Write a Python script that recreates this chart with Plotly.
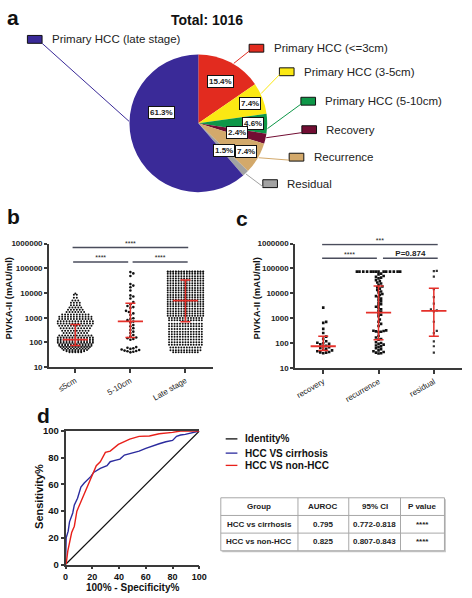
import numpy as np
import plotly.graph_objects as go

W, H = 472, 598
def X(px): return px / W
def Y(py): return 1 - py / H

FONT = "Arial, Liberation Sans, sans-serif"
RED = "#E5302A"

# ---------------- Panel a data ----------------
pie_labels = ["Primary HCC (<=3cm)", "Primary HCC (3-5cm)", "Primary HCC (5-10cm)",
              "Recovery", "Recurrence", "Residual", "Primary HCC (late stage)"]
pie_pct = [15.4, 7.4, 4.6, 2.4, 7.4, 1.5, 61.3]
pie_colors = ["#E22B1F", "#FBE813", "#0E9748", "#720D33", "#D3A96B", "#A2A2A2", "#3A2A98"]
total_n = 1016

# ---------------- Panel b data ----------------
b_cats = ["≤5cm", "5-10cm", "Late stage"]
le5_levels = [9500, 8500, 6500, 5000, 4000, 3200, 2600, 2100, 1700, 1350, 1100, 900, 720, 580,
              470, 380, 300, 240, 190, 160, 135, 115, 98, 85, 74, 65, 57, 50, 44, 40]
le5_counts = [1, 2, 2, 3, 4, 4, 5, 6, 7, 10, 12, 12, 13, 13,
              12, 11, 10, 9, 12, 13, 13, 13, 13, 12, 12, 11, 10, 9, 7, 5]
mid_vals = [70000, 62000, 49000, 23000, 20000, 17000, 12600, 8000, 7200, 6000,
            4300, 3500, 3000, 2700, 2500, 1900, 1700, 1500, 1300, 950, 900, 800, 700, 650,
            510, 450, 380, 320, 275, 240, 180, 160, 150, 140, 130, 65, 61, 55, 52, 50, 47,
            45, 44, 42, 40, 58, 200]
late_levels = [75000, 72000, 60000, 48000, 39000, 31000, 25000, 20000, 16000, 13000, 10500,
               8400, 6800, 5500, 4400, 3600, 2900, 2300, 1850, 1500, 1200, 980, 790,
               575, 450, 355, 275, 215, 170, 132, 103, 81, 63, 49, 40]
late_counts = [14, 14, 14, 14, 14, 14, 14, 14, 14, 14, 14,
               14, 14, 14, 14, 14, 14, 14, 14, 14, 14, 13, 13,
               13, 13, 13, 13, 13, 13, 13, 13, 13, 12, 12, 10]
b_median = [130, 720, 4900]
b_q1 = [75, 158, 690]
b_q3 = [540, 3900, 34000]

# ---------------- Panel c data ----------------
c_cats = ["recovery", "recurrence", "residual"]
recovery_vals = [2700, 720, 660, 380, 260, 185, 150, 120, 105, 100, 95, 90, 80, 75, 70,
                 65, 60, 55, 52, 48, 45, 43, 42, 40]
recurrence_vals = [75000] * 14 + [
    62000, 58000, 50000, 46000, 43000, 40000, 34000, 31000, 27500, 25000, 22000,
    19000, 17500, 15500, 13800, 12000, 11000, 9500, 8700, 7800, 7000, 6200, 5500,
    4800, 4250, 3700, 3300, 2900, 2600, 2300, 2000, 1800, 1560, 1400, 1230,
    900, 730, 600, 490, 330, 320, 310, 300, 290, 280, 200, 170, 148, 140,
    110, 103, 95, 88, 81, 75, 70, 63, 58, 52, 48, 45, 42, 40, 39]
residual_vals = [80000, 78000, 47000, 15000, 7100, 3900, 2300, 2100, 1900, 730, 315, 255,
                 120, 76, 42]
c_median = [76, 1700, 2000]
c_q1 = [51, 140, 190]
c_q3 = [190, 20000, 16000]

# ---------------- Panel d data ----------------
blue_x = [0, 0.5, 2, 3, 5.4, 6.6, 9, 11.5, 14, 16.3, 19, 21, 26, 31, 33.4, 37, 40.7, 44, 50,
          55, 60, 65, 70, 75, 80, 83, 86, 89.5, 95, 100]
blue_y = [0, 20, 25, 32, 38.6, 44.7, 49.6, 58, 61, 63, 66, 69, 72, 74, 77, 78, 79, 82, 83.5,
          85, 87, 89, 90.5, 92, 93, 96, 97, 97.5, 99, 100]
red_x = [0, 0.5, 1.7, 3.4, 4.6, 6.6, 8.5, 11.5, 14, 16.8, 20, 23, 26, 29.8, 33.4, 39.5, 48,
         55, 62.7, 70, 80, 86, 100]
red_y = [0, 0.5, 10, 20, 24, 28.7, 40, 47, 53, 59.5, 68, 74, 77, 84, 85, 90, 94,
         96, 96.3, 98, 99, 100, 100]
ident_x = [0, 100]
ident_y = [0, 100]
roc_names = ["Identity%", "HCC VS cirrhosis", "HCC VS non-HCC"]
roc_colors = ["#111111", "#2B2B9E", "#E8201A"]

tbl_header = ["Group", "AUROC", "95% CI", "P value"]
tbl_group = ["HCC vs cirrhosis", "HCC vs non-HCC"]
tbl_auroc = ["0.795", "0.825"]
tbl_ci = ["0.772-0.818", "0.807-0.843"]
tbl_p = ["****", "****"]

# ---------------- helpers ----------------
def rows_layout(levels, counts, spacing_px, ppx):
    xs, ys = [], []
    for lv, n in zip(levels, counts):
        for i in range(n):
            xs.append((i - (n - 1) / 2) * spacing_px / ppx)
            ys.append(lv)
    return np.array(xs), np.array(ys)

def swarm(vals, ppx, ppy, d):
    vals = sorted(vals)
    placed = []
    xs = []
    for v in vals:
        y = np.log10(v) * ppy
        k = 0
        while True:
            step = 0.0 if k == 0 else (k + 1) // 2 * (1 if k % 2 else -1) * 0.5 * d
            if all((px - step) ** 2 + (py - y) ** 2 >= d * d for px, py in placed):
                placed.append((step, y))
                xs.append(step / ppx)
                break
            k += 1
    return np.array(xs), np.array(vals)

fig = go.Figure()
annotations = []
shapes = []

def txt(x, y, t, size, bold=False, xa="center", ya="middle", angle=0, color="#111", **kw):
    annotations.append(dict(x=X(x), y=Y(y), xref="paper", yref="paper",
                            text=f"<b>{t}</b>" if bold else t, showarrow=False,
                            xanchor=xa, yanchor=ya, textangle=angle,
                            font=dict(size=size, family=FONT, color=color), **kw))

# ---------------- Panel a ----------------
PCX, PCY, PR = 200, 119.5, 70.5
fig.add_trace(go.Pie(values=pie_pct, labels=pie_labels, sort=False, direction="clockwise",
                     rotation=0, textinfo="none", hoverinfo="label+percent",
                     marker=dict(colors=pie_colors, line=dict(width=0)),
                     domain=dict(x=[X(PCX - PR), X(PCX + PR)], y=[Y(PCY + PR), Y(PCY - PR)]),
                     showlegend=False))

label_r = [0.68, 0.8, 0.8, 0.58, 0.8, 0.54, 0.56]
label_shift = [0, 0, 0, 0, 0, 0, 37]
leader_shift = [3, -4, 4, -1, -1, 0, 22]
leg_box = [(252, 43), (283, 67), (305, 97), (306, 126), (293, 154), (266, 181), (25, 34)]
cum = np.cumsum([0] + pie_pct) / sum(pie_pct)
for i, (lab, pct) in enumerate(zip(pie_labels, pie_pct)):
    mid = (cum[i] + cum[i + 1]) / 2 * 360
    th = np.radians(mid + label_shift[i])
    r = label_r[i] * PR
    txt(PCX + r * np.sin(th), PCY - r * np.cos(th), f"{pct}%", 8, bold=True, color="#222",
        bgcolor="white", bordercolor="#111", borderwidth=1, borderpad=1)
    bx, by = leg_box[i]
    shapes.append(dict(type="rect", xref="paper", yref="paper", x0=X(bx), x1=X(bx + 15),
                       y0=Y(by - 4), y1=Y(by + 4), fillcolor=pie_colors[i],
                       line=dict(color="#111", width=1)))
    txt(bx + 23, by, lab, 11.5, xa="left", color="#222")
    tl = np.radians(mid + leader_shift[i])
    sx, sy = PCX + (PR + 0.5) * np.sin(tl), PCY - (PR + 0.5) * np.cos(tl)
    ex, ey = (bx + 15, by + 4) if i == len(pie_pct) - 1 else (bx, by + 3)
    shapes.append(dict(type="line", xref="paper", yref="paper", x0=X(sx), y0=Y(sy),
                       x1=X(ex), y1=Y(ey), line=dict(color=pie_colors[i], width=1)))

txt(209, 14, f"Total: {total_n}", 14, bold=True)

# ---------------- Panel b ----------------
PPX_B, PPY_B = 56.5, 25.2
xs0, ys0 = rows_layout(le5_levels, le5_counts, 3.0, PPX_B)
xs1, ys1 = swarm(mid_vals, PPX_B, PPY_B, 3.0)
xs2, ys2 = rows_layout(late_levels, late_counts, 2.8, PPX_B)
for ci, (xs, ys) in enumerate([(xs0, ys0), (xs1, ys1), (xs2, ys2)]):
    fig.add_trace(go.Scatter(x=xs + ci, y=ys, mode="markers", xaxis="x", yaxis="y",
                             marker=dict(size=2.0 if ci != 1 else 2.6, color="#111"),
                             showlegend=False, hoverinfo="y"))
fig.add_trace(go.Scatter(x=[0, 1, 2], y=b_median, mode="markers", xaxis="x", yaxis="y",
                         marker=dict(symbol="line-ew", size=18, line=dict(width=1.8, color=RED)),
                         error_y=dict(type="data", symmetric=False,
                                      array=[q - m for q, m in zip(b_q3, b_median)],
                                      arrayminus=[m - q for q, m in zip(b_q1, b_median)],
                                      color=RED, thickness=1.5, width=5),
                         showlegend=False))
SIG = "#4a4d5c"
b_sig = [(-0.05, 2.05, 690000, "****"), (-0.04, 0.96, 178000, "****"), (1.04, 2.04, 178000, "****")]
for x0, x1, yv, t in b_sig:
    fig.add_trace(go.Scatter(x=[x0, x1], y=[yv, yv], mode="lines", xaxis="x", yaxis="y",
                             line=dict(color=SIG, width=1.5), showlegend=False, hoverinfo="skip",
                             cliponaxis=False))
    fig.add_trace(go.Scatter(x=[(x0 + x1) / 2], y=[yv], mode="text", text=[t], xaxis="x",
                             yaxis="y", textposition="top center", cliponaxis=False,
                             textfont=dict(size=7, family=FONT, color="#222"),
                             showlegend=False, hoverinfo="skip"))

# ---------------- Panel c ----------------
PPX_C, PPY_C = 56.5, 25.4
cx0, cy0 = swarm(recovery_vals, PPX_C, PPY_C, 3.0)
cx1, cy1 = swarm(recurrence_vals, PPX_C, PPY_C, 2.6)
cx2, cy2 = swarm(residual_vals, PPX_C, PPY_C, 3.0)
for ci, (xs, ys) in enumerate([(cx0, cy0), (cx1, cy1), (cx2, cy2)]):
    fig.add_trace(go.Scatter(x=xs + ci, y=ys, mode="markers", xaxis="x2", yaxis="y2",
                             marker=dict(size=2.6 if ci < 2 else 2.2, symbol="square",
                                         color="#111" if ci < 2 else "#333"),
                             showlegend=False, hoverinfo="y"))
fig.add_trace(go.Scatter(x=[0, 1, 2], y=c_median, mode="markers", xaxis="x2", yaxis="y2",
                         marker=dict(symbol="line-ew", size=18, line=dict(width=1.8, color=RED)),
                         error_y=dict(type="data", symmetric=False,
                                      array=[q - m for q, m in zip(c_q3, c_median)],
                                      arrayminus=[m - q for q, m in zip(c_q1, c_median)],
                                      color=RED, thickness=1.5, width=5),
                         showlegend=False))
c_sig = [(-0.02, 2.07, 910000, "***", 7), (-0.02, 0.97, 257000, "****", 7),
         (1.08, 2.07, 257000, "P=0.874", 8)]
for x0, x1, yv, t, fs in c_sig:
    fig.add_trace(go.Scatter(x=[x0, x1], y=[yv, yv], mode="lines", xaxis="x2", yaxis="y2",
                             line=dict(color=SIG, width=1.5), showlegend=False, hoverinfo="skip",
                             cliponaxis=False))
    fig.add_trace(go.Scatter(x=[(x0 + x1) / 2], y=[yv], mode="text",
                             text=[f"<b>{t}</b>" if fs == 8 else t], cliponaxis=False,
                             xaxis="x2", yaxis="y2", textposition="top center",
                             textfont=dict(size=fs, family=FONT, color="#222"),
                             showlegend=False, hoverinfo="skip"))

# ---------------- Panel d ----------------
for (xx, yy), nm, col, w in zip([(ident_x, ident_y), (blue_x, blue_y), (red_x, red_y)],
                                 roc_names, roc_colors, [1.2, 1.4, 1.4]):
    fig.add_trace(go.Scatter(x=xx, y=yy, mode="lines", name=nm, xaxis="x3", yaxis="y3",
                             line=dict(color=col, width=w), showlegend=False))
leg_y = [441, 455.5, 468]
for nm, col, ly in zip(roc_names, roc_colors, leg_y):
    shapes.append(dict(type="line", xref="paper", yref="paper", x0=X(228), x1=X(240),
                       y0=Y(ly), y1=Y(ly), line=dict(color=col, width=1.3)))
    txt(246, ly, nm, 10, bold=True, xa="left")

# table drawn with lines and text
col_edges = [223, 302, 354, 407, 452]
row_edges = [501, 519, 537, 555]
shapes.append(dict(type="rect", xref="paper", yref="paper", x0=X(col_edges[0] + 1.5),
                   x1=X(col_edges[-1] + 1.5), y0=Y(row_edges[-1] + 1.5), y1=Y(row_edges[0] + 1.5),
                   fillcolor="#c8c8c8", line=dict(width=0), layer="below"))
shapes.append(dict(type="rect", xref="paper", yref="paper", x0=X(col_edges[0]),
                   x1=X(col_edges[-1]), y0=Y(row_edges[-1]), y1=Y(row_edges[0]),
                   fillcolor="white", line=dict(color="#a8a8a8", width=1), layer="below"))
for cx in col_edges[1:-1]:
    shapes.append(dict(type="line", xref="paper", yref="paper", x0=X(cx), x1=X(cx),
                       y0=Y(row_edges[0]), y1=Y(row_edges[-1]), line=dict(color="#a8a8a8", width=1)))
for ry in row_edges[1:-1]:
    shapes.append(dict(type="line", xref="paper", yref="paper", x0=X(col_edges[0]), x1=X(col_edges[-1]),
                       y0=Y(ry), y1=Y(ry), line=dict(color="#a8a8a8", width=1)))
table_rows = [tbl_header] + [list(r) for r in zip(tbl_group, tbl_auroc, tbl_ci, tbl_p)]
for ri, row in enumerate(table_rows):
    cyp = (row_edges[ri] + row_edges[ri + 1]) / 2
    for ci, val in enumerate(row):
        cxp = (col_edges[ci] + col_edges[ci + 1]) / 2
        txt(cxp, cyp, val, 8, bold=True, color="#222")

# ---------------- axes ----------------
AX = dict(showgrid=False, zeroline=False, showline=True, linecolor="#3a3a3a", linewidth=1.5,
          ticks="outside", ticklen=4, tickwidth=1.5, tickcolor="#3a3a3a")
ytv = [10, 100, 1000, 10000, 100000, 1000000]
ytt = [str(v) for v in ytv]
fig.update_layout(
    xaxis=dict(AX, domain=[X(47), X(215)], range=[-0.48, 2.5], anchor="y",
               tickvals=[0, 1, 2], ticktext=b_cats, tickangle=-30,
               tickfont=dict(size=8, family=FONT, color="#222")),
    yaxis=dict(AX, domain=[Y(368), Y(242)], type="log", range=[1, 6], anchor="x",
               tickvals=ytv, ticktext=ytt, ticklen=3,
               tickfont=dict(size=8, family=FONT, color="#222", weight="bold")),
    xaxis2=dict(AX, domain=[X(299), X(470)], range=[-0.51, 2.51], anchor="y2",
                tickvals=[0, 1, 2], ticktext=c_cats, tickangle=-30,
                tickfont=dict(size=8, family=FONT, color="#222")),
    yaxis2=dict(AX, domain=[Y(369), Y(242)], type="log", range=[1, 6], anchor="x2",
                tickvals=ytv, ticktext=ytt, ticklen=3,
                tickfont=dict(size=8, family=FONT, color="#222", weight="bold")),
    xaxis3=dict(AX, domain=[X(64), X(201)], range=[0, 100], anchor="y3", dtick=20,
                ticklen=3, mirror=True,
                tickfont=dict(size=9, family=FONT, color="#111", weight="bold")),
    yaxis3=dict(AX, domain=[Y(569), Y(433)], range=[0, 100], anchor="x3", dtick=20,
                ticklen=3,
                tickfont=dict(size=9.5, family=FONT, color="#111", weight="bold")),
)

for t, xp, yp in [("a", 2, 12), ("b", 2, 214), ("c", 237, 216), ("d", 33, 417)]:
    txt(xp, yp, t, 21, bold=True, xa="left")
for t, xp, yp, ang, fs in [("PIVKA-II (mAU/ml)", 6, 298, -90, 9.5),
                           ("PIVKA-II (mAU/ml)", 260, 298, -90, 9.5),
                           ("Sensitivity%", 37, 500, -90, 11),
                           ("100% - Specificity%", 133, 592.5, 0, 10)]:
    txt(xp, yp, t, fs, bold=True, angle=ang)

fig.update_layout(width=W, height=H, margin=dict(l=0, r=0, t=0, b=0),
                  paper_bgcolor="white", plot_bgcolor="white", showlegend=False,
                  annotations=annotations, shapes=shapes, font=dict(family=FONT))
fig.write_html("out.html", config={"displayModeBar": False},
               post_script="document.body.style.margin='0';document.body.style.padding='0';")
